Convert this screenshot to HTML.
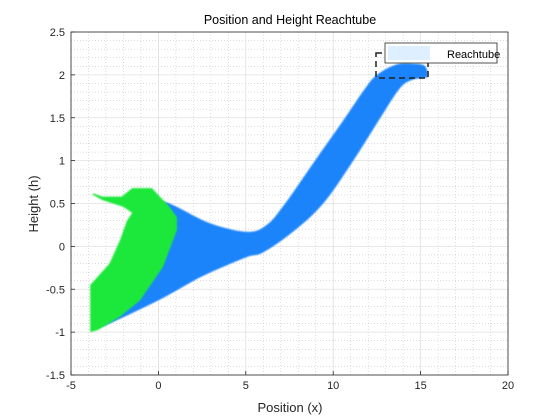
<!DOCTYPE html>
<html><head><meta charset="utf-8"><style>
body{margin:0;background:#fff;}
svg{display:block;font-family:"Liberation Sans",Arial,sans-serif;}
</style></head><body>
<svg id="chart" width="560" height="420" viewBox="0 0 560 420">
<defs><filter id="soft" x="-5%" y="-5%" width="110%" height="110%"><feGaussianBlur stdDeviation="0.8"/></filter></defs>
<rect x="71" y="32" width="437" height="343" fill="#fff"/>
<g id="grid"></g>
<g id="marks"></g>
<rect x="71" y="32" width="437" height="343" fill="none" stroke="#262626" stroke-width="0.8"/>
<g id="ticks"></g>
<text x="290" y="24" text-anchor="middle" font-size="12.5" fill="#000">Position and Height Reachtube</text>
<text x="290" y="412" text-anchor="middle" font-size="13" fill="#262626">Position (x)</text>
<text transform="translate(38,204) rotate(-90)" text-anchor="middle" font-size="13" fill="#262626">Height (h)</text>
<rect x="376" y="53" width="52" height="25" fill="none" stroke="#222" stroke-width="1.5" stroke-dasharray="6,4"/>
<g>
<rect x="385" y="43" width="112" height="20" fill="#fff" stroke="#262626" stroke-width="0.8"/>
<rect x="388" y="46" width="42" height="14" fill="#deefff"/>
<text x="447" y="58" font-size="11" fill="#000">Reachtube</text>
</g>
</svg>
<script>
const xTicks=[-5,0,5,10,15,20];
const yTicks=[-1.5,-1,-0.5,0,0.5,1,1.5,2,2.5];
const xTickLabels=["-5","0","5","10","15","20"];
const yTickLabels=["-1.5","-1","-0.5","0","0.5","1","1.5","2","2.5"];
const tubeUpperX=[-0.5,0.3,1.06,2.95,5.07,6.2,7.25,8.96,10.68,11.82,12.5,13.6,14.6,15.2,15.4];
const tubeUpperY=[0.52,0.52,0.46,0.27,0.17,0.25,0.5,1.0,1.5,1.84,2.0,2.12,2.13,2.11,2.04];
const tubeLowerX=[15.4,14.5,13.8,12.7,11.15,9.43,7.7,6.0,5.0,2.5,0.1,-2.8,-3.6];
const tubeLowerY=[1.97,1.94,1.84,1.5,1.0,0.5,0.17,-0.07,-0.13,-0.35,-0.62,-0.9,-0.96];
const greenX=[-3.74,-3.2,-2.1,-1.5,-0.37,0.6,1.06,1.06,0.26,-1.05,-2.2,-3.5,-3.9,-3.9,-3.5,-2.8,-2.2,-1.8,-1.5,-2.0,-3.2,-3.74];
const greenY=[0.62,0.58,0.58,0.68,0.68,0.47,0.34,0.19,-0.24,-0.63,-0.82,-0.98,-1.0,-0.45,-0.36,-0.2,0.07,0.3,0.39,0.46,0.54,0.6];
const X0=71,X1=508,Y0=375,Y1=32;
const sx=v=>X0+(v+5)/25*(X1-X0);
const sy=v=>Y0-(v+1.5)/4*(Y0-Y1);
const NS="http://www.w3.org/2000/svg";
const grid=document.getElementById('grid'),marks=document.getElementById('marks'),ticks=document.getElementById('ticks');
function ln(p,x1,y1,x2,y2,st,w,da){const l=document.createElementNS(NS,'line');l.setAttribute('x1',x1);l.setAttribute('y1',y1);l.setAttribute('x2',x2);l.setAttribute('y2',y2);l.setAttribute('stroke',st);l.setAttribute('stroke-width',w);if(da)l.setAttribute('stroke-dasharray',da);p.appendChild(l);return l;}
for(let v=-4;v<20;v++){if(v%5===0)continue;const l=ln(grid,sx(v),Y1,sx(v),Y0,'#c8c8c8',0.6,'1,2');

}
for(let k=-14;k<25;k++){if(k%5===0)continue;const v=k/10;const l=ln(grid,X0,sy(v),X1,sy(v),'#c8c8c8',0.6,'1,2');

}
xTicks.forEach((v,i)=>{const l=ln(grid,sx(v),Y1,sx(v),Y0,'#e0e0e0',0.8);


ln(ticks,sx(v),Y0,sx(v),Y0-4,'#262626',0.8);
const t=document.createElementNS(NS,'text');t.setAttribute('x',sx(v));t.setAttribute('y',Y0+14);t.setAttribute('text-anchor','middle');t.setAttribute('font-size','11');t.setAttribute('fill','#262626');t.textContent=xTickLabels[i];


ticks.appendChild(t);});
yTicks.forEach((v,i)=>{const l=ln(grid,X0,sy(v),X1,sy(v),'#e0e0e0',0.8);


ln(ticks,X0,sy(v),X0+4,sy(v),'#262626',0.8);
const t=document.createElementNS(NS,'text');t.setAttribute('x',X0-6);t.setAttribute('y',sy(v)+4);t.setAttribute('text-anchor','end');t.setAttribute('font-size','11');t.setAttribute('fill','#262626');t.textContent=yTickLabels[i];


ticks.appendChild(t);});
function spline(xs,ys,first){
  const P=xs.map((x,i)=>[sx(x),sy(ys[i])]);
  let d=(first?'M':'L')+P[0][0].toFixed(1)+','+P[0][1].toFixed(1);
  for(let i=0;i<P.length-1;i++){
    const p0=P[Math.max(0,i-1)],p1=P[i],p2=P[i+1],p3=P[Math.min(P.length-1,i+2)];
    const c1=[p1[0]+(p2[0]-p0[0])/6,p1[1]+(p2[1]-p0[1])/6];
    const c2=[p2[0]-(p3[0]-p1[0])/6,p2[1]-(p3[1]-p1[1])/6];
    d+=' C'+c1.map(v=>v.toFixed(1)).join(',')+' '+c2.map(v=>v.toFixed(1)).join(',')+' '+p2[0].toFixed(1)+','+p2[1].toFixed(1);
  }
  return d;
}
const tube=document.createElementNS(NS,'path');
tube.setAttribute('d',spline(tubeUpperX,tubeUpperY,true)+' '+spline(tubeLowerX,tubeLowerY,false)+' Z');
tube.setAttribute('fill','#1a84fb');
tube.setAttribute('filter','url(#soft)');


marks.appendChild(tube);
const gr=document.createElementNS(NS,'polygon');
gr.setAttribute('points',greenX.map((x,i)=>sx(x).toFixed(1)+','+sy(greenY[i]).toFixed(1)).join(' '));
gr.setAttribute('fill','#1ee83a');
gr.setAttribute('filter','url(#soft)');


marks.appendChild(gr);
</script>
</body></html>
